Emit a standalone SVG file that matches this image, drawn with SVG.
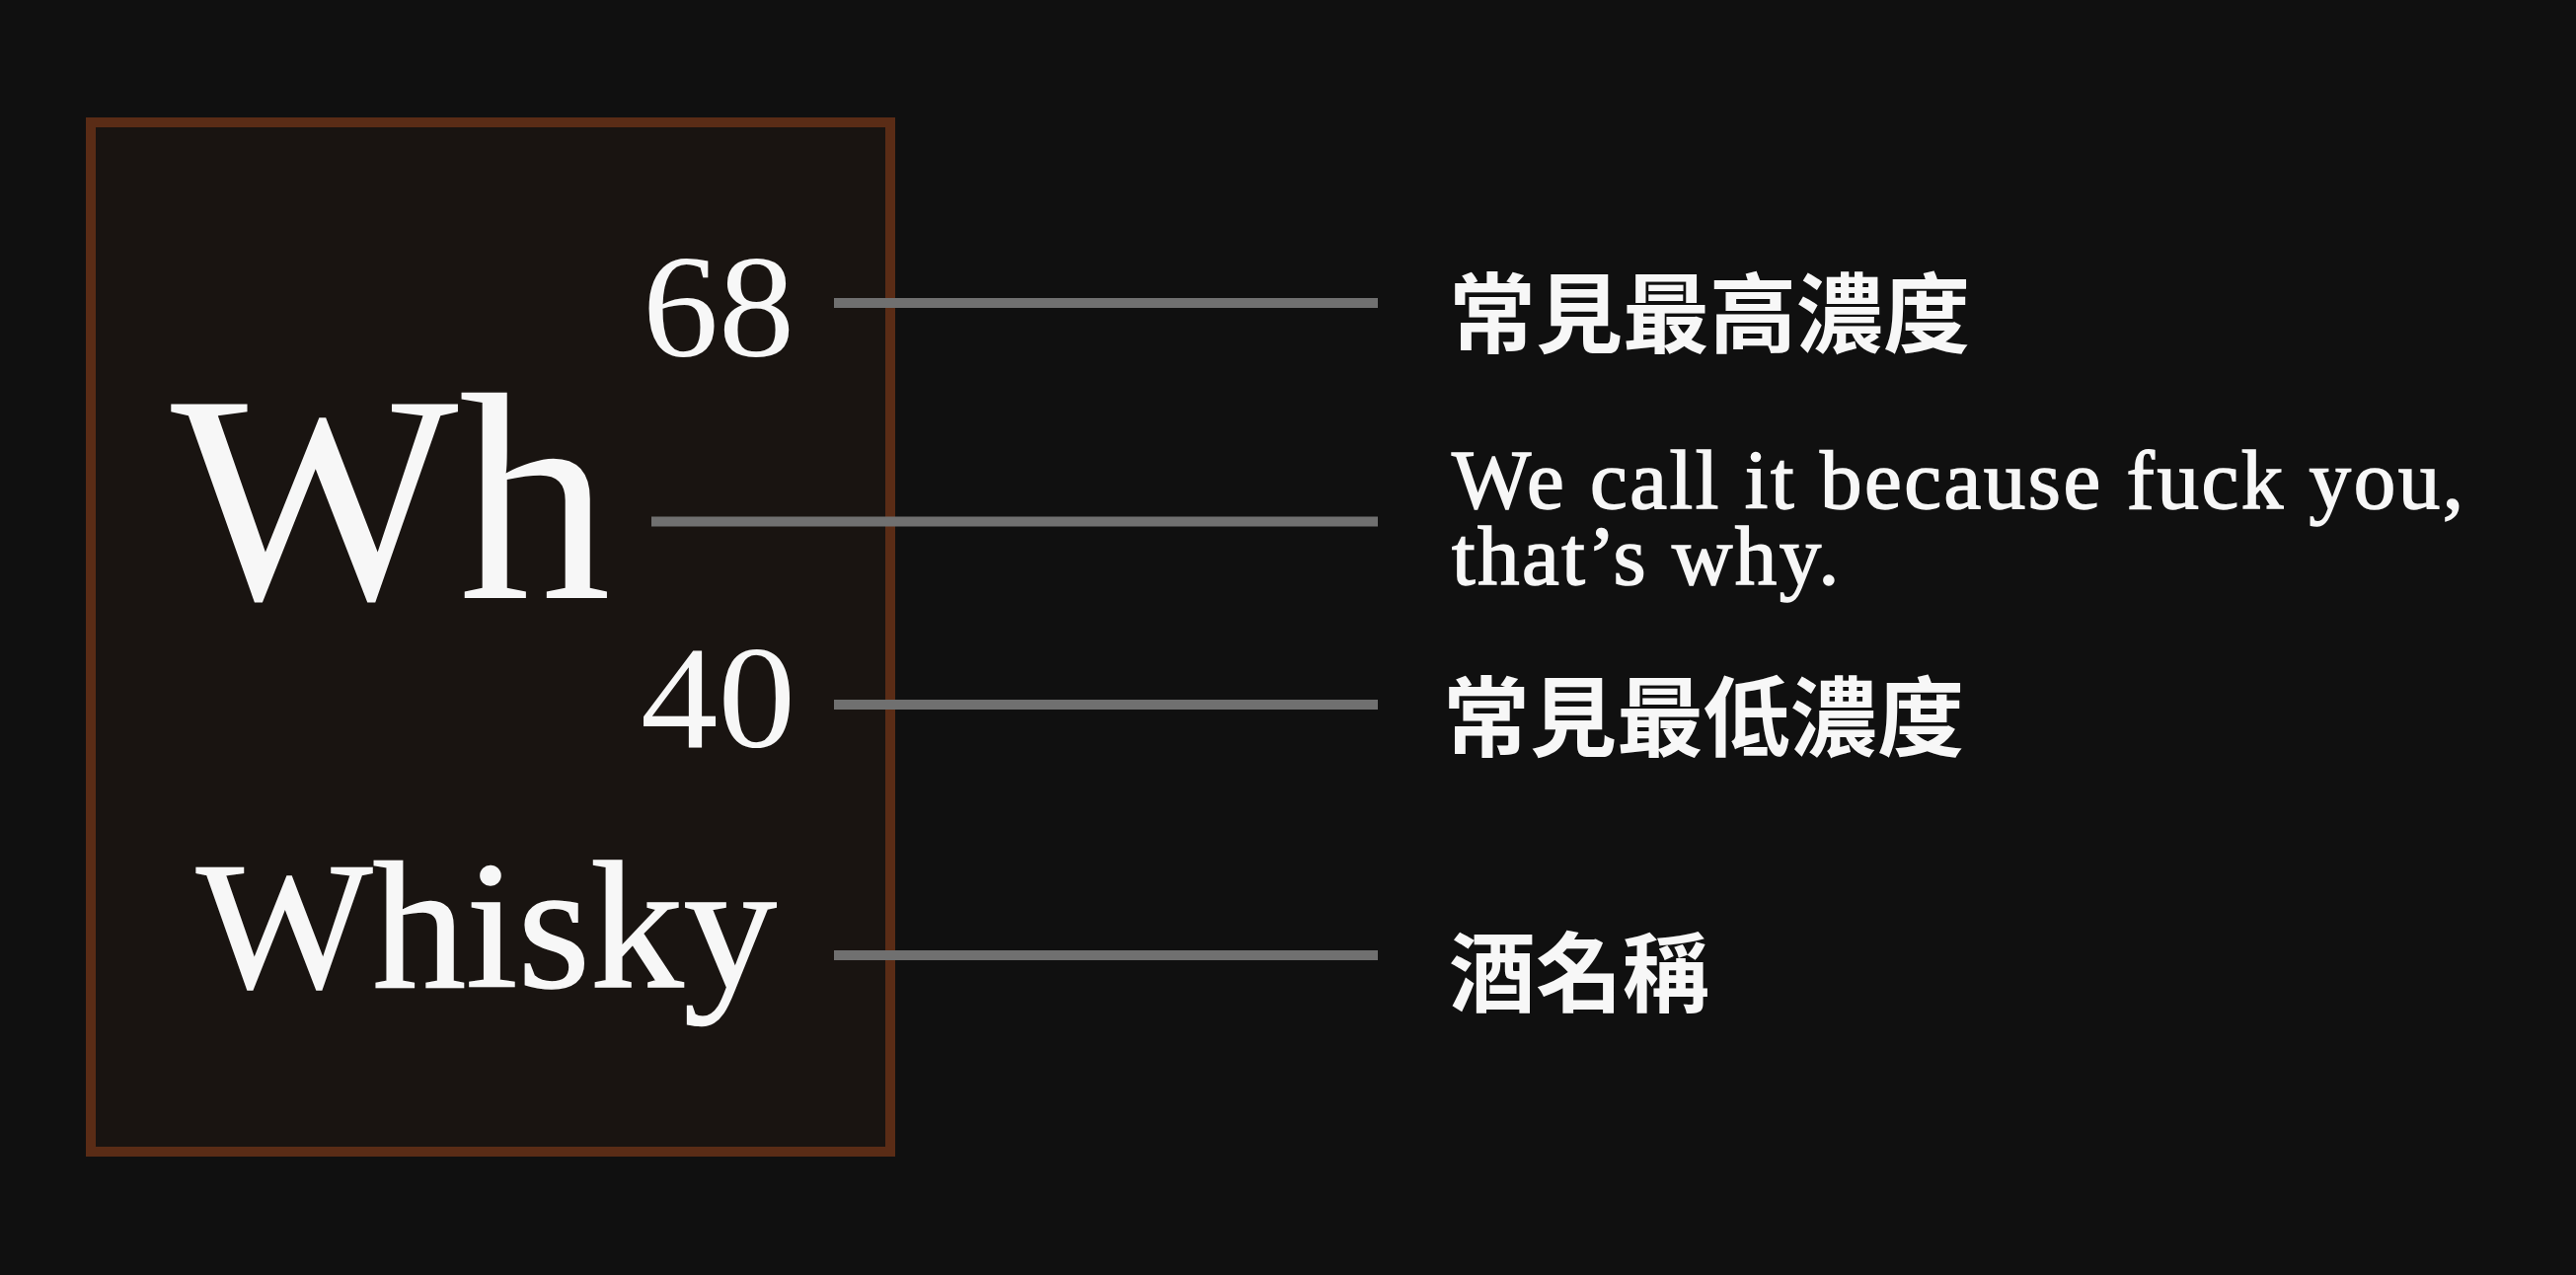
<svg xmlns="http://www.w3.org/2000/svg" width="2610" height="1292" viewBox="0 0 2610 1292">
<style>
.bg{fill:#101010}
.card{fill:#191411;stroke:#5a2c16;stroke-width:10}
.serif{font-family:"Liberation Serif","DejaVu Serif",serif;fill:#f7f7f7}
.heavy{stroke:#f7f7f7;stroke-width:1.5}
.cjk{font-family:"Noto Sans CJK TC","Noto Sans CJK SC",sans-serif;font-weight:700;fill:#f7f7f7;font-size:88px}
.conn line{stroke:#707070;stroke-width:10}
</style>
<rect class="bg" x="0" y="0" width="2610" height="1292"/>
<g id="element-card">
  <rect class="card" x="92" y="124" width="810" height="1043"/>
  <text id="max-value" class="serif" x="651" y="361" font-size="148" textLength="154" lengthAdjust="spacingAndGlyphs">68</text>
  <text id="symbol" class="serif" x="173" y="606" font-size="300" textLength="446" lengthAdjust="spacingAndGlyphs">Wh</text>
  <text id="min-value" class="serif" x="649" y="757" font-size="148" textLength="157" lengthAdjust="spacingAndGlyphs">40</text>
  <text id="name" class="serif heavy" x="199" y="1000" font-size="185" textLength="588" lengthAdjust="spacingAndGlyphs">Whisky</text>
</g>
<g id="connectors" class="conn">
  <line x1="845" y1="307" x2="1396" y2="307"/>
  <line x1="660" y1="528.5" x2="1396" y2="528.5"/>
  <line x1="845" y1="714" x2="1396" y2="714"/>
  <line x1="845" y1="968" x2="1396" y2="968"/>
</g>
<g id="label-max">
  <text class="cjk" x="1468" y="350">常見最高濃度</text>
</g>
<g id="label-symbol">
  <text class="serif heavy" x="1471" y="515" font-size="85" textLength="1025" lengthAdjust="spacing">We call it because fuck you,</text>
  <text class="serif heavy" x="1471" y="592" font-size="85" letter-spacing="2.5">that’s why.</text>
</g>
<g id="label-min">
  <text class="cjk" x="1462" y="759">常見最低濃度</text>
</g>
<g id="label-name">
  <text class="cjk" x="1468" y="1018">酒名稱</text>
</g>
</svg>
